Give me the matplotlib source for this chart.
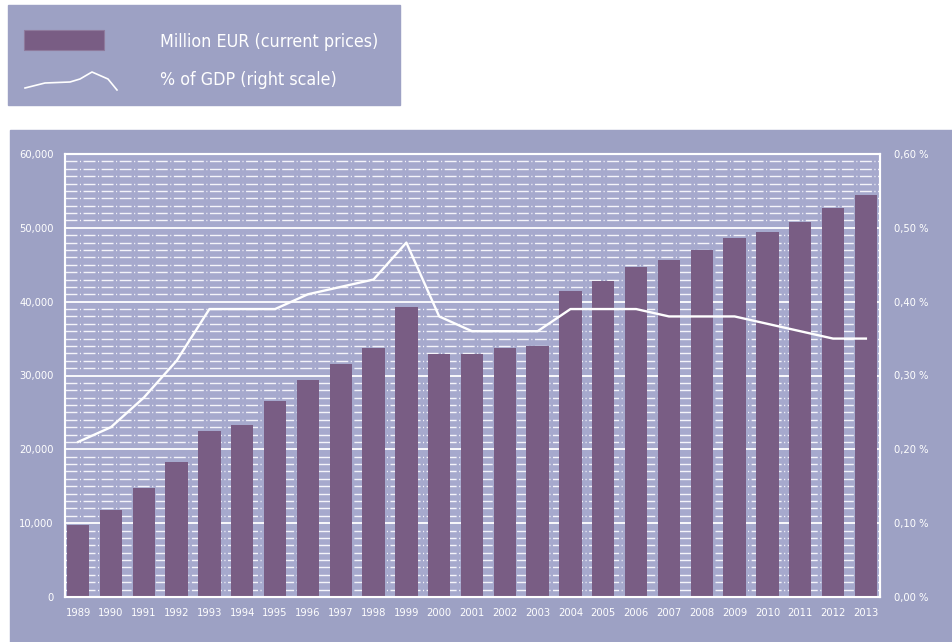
import matplotlib
matplotlib.use("Agg")
import matplotlib.pyplot as plt
from matplotlib.patches import Rectangle
from matplotlib.lines import Line2D
from matplotlib.ticker import FixedLocator, MultipleLocator
import numpy as np

years = [str(y) for y in range(1989, 2014)]
million_eur = [9700, 11800, 14800, 18300, 22500, 23300, 26500, 29400, 31600, 33700,
               39300, 32900, 32900, 33700, 34000, 41500, 42800, 44700, 45700, 47000,
               48600, 49500, 50800, 52700, 54500]
pct_gdp = [0.21, 0.23, 0.27, 0.32, 0.39, 0.39, 0.39, 0.41, 0.42, 0.43,
           0.48, 0.38, 0.36, 0.36, 0.36, 0.39, 0.39, 0.39, 0.38, 0.38,
           0.38, 0.37, 0.36, 0.35, 0.35]
left_ticks = [0, 10000, 20000, 30000, 40000, 50000, 60000]
left_labels = ["0", "10,000", "20,000", "30,000", "40,000", "50,000", "60,000"]
right_ticks = [0, 0.1, 0.2, 0.3, 0.4, 0.5, 0.6]
right_labels = ["0,00 %", "0,10 %", "0,20 %", "0,30 %", "0,40 %", "0,50 %", "0,60 %"]

panel_col = "#9da1c4"
plot_col = "#a6a9cd"
bar_col = "#795d84"
W, H = 952, 642

fig = plt.figure(figsize=(W / 100, H / 100), dpi=100)
fig.patch.set_facecolor("white")

# background panels (legend box + chart panel)
fig.patches.append(Rectangle((8 / W, 1 - 105 / H), 392 / W, 100 / H,
                             transform=fig.transFigure, color=panel_col, zorder=-2))
fig.patches.append(Rectangle((10 / W, 0), 942 / W, 512 / H,
                             transform=fig.transFigure, color=panel_col, zorder=-2))

# legend
fig.patches.append(Rectangle((24 / W, 1 - 50 / H), 80 / W, 20 / H, transform=fig.transFigure,
                             facecolor=bar_col, edgecolor="#8e7a9c", lw=0.8, zorder=2))
fig.text(160 / W, 1 - 42 / H, "Million EUR (current prices)", color="white",
         fontsize=12.8, va="center", ha="left", fontstretch="condensed")
lx = np.array([25, 45, 70, 80, 92, 108, 117]) / W
ly = 1 - np.array([88, 83, 82, 79, 72, 79, 90]) / H
fig.lines.append(Line2D(lx, ly, transform=fig.transFigure, color="white", lw=1.2))
fig.text(160 / W, 1 - 80 / H, "% of GDP (right scale)", color="white",
         fontsize=12.8, va="center", ha="left", fontstretch="condensed")

ax = fig.add_axes([65 / W, 45 / H, 815 / W, 443 / H])
ax.set_facecolor(plot_col)
x = np.arange(len(years))

ax.set_ylim(0, 60000)
ax.set_xlim(-0.4, len(years) - 0.57)
ax.yaxis.set_major_locator(FixedLocator(left_ticks))
ax.yaxis.set_minor_locator(MultipleLocator(1000))
ax.grid(which="major", axis="y", color="white", lw=1.3, zorder=1)
ax.grid(which="minor", axis="y", color="#f4f4fa", lw=1.0,
        linestyle=(0, (8.6, 1.8, 0.8, 1.8)), zorder=1)
ax.set_axisbelow(True)

ax.bar(x, million_eur, width=0.68, color=bar_col, zorder=3)

ax.set_xticks(x)
ax.set_xticklabels(years)
ax.set_yticklabels(left_labels)
ax.tick_params(axis="both", which="both", length=0, colors="white", labelsize=8)
ax.tick_params(axis="x", pad=8)
ax.tick_params(axis="y", pad=8)
for lab in ax.get_xticklabels() + ax.get_yticklabels():
    lab.set_fontstretch("condensed")
for s in ax.spines.values():
    s.set_color("white")
    s.set_linewidth(1.5)

ax2 = ax.twinx()
ax2.set_ylim(0, 0.6)
ax2.plot(x, pct_gdp, color="white", lw=1.7, zorder=4)
ax2.yaxis.set_major_locator(FixedLocator(right_ticks))
ax2.set_yticklabels(right_labels)
ax2.tick_params(axis="y", length=0, colors="white", labelsize=8, pad=10)
for lab in ax2.get_yticklabels():
    lab.set_fontstretch("condensed")
for s in ax2.spines.values():
    s.set_color("white")
    s.set_linewidth(1.5)

fig.savefig("out.png", dpi=100)
